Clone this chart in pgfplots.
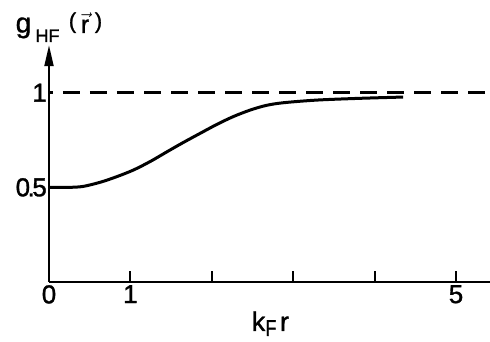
\documentclass[border=0pt]{standalone}
\usepackage{fontspec}
\setmainfont{Liberation Sans}[FakeBold=1.2]
\usepackage{pgfplots}
\pgfplotsset{compat=1.18}
\usetikzlibrary{arrows.meta}
\begin{document}
\begin{tikzpicture}
\path[use as bounding box] (-49pt,-60pt) rectangle (441pt,282pt);
\begin{axis}[
  at={(0pt,0pt)}, anchor=origin,
  scale only axis, x=81.4pt, y=189.3pt,
  xmin=0, xmax=5.42, ymin=0, ymax=1.251,
  axis lines=left,
  axis line style={line width=2pt},
  x axis line style={-},
  y axis line style={-{Triangle[length=21pt,width=9pt]}},
  clip=false,
  xtick={0,1,2,3,4,5}, xticklabels={0,1,,,,5},
  ytick={0.5,1}, yticklabels={0\kern-2.5pt.\kern-2.5pt5,1},
  tick align=inside,
  major tick length=11pt,
  xtick style={line width=2pt, black},
  ytick style={draw=none},
  ticklabel style={font=\fontsize{26}{30}\selectfont},
  xticklabel style={inner sep=0.3em},
  yticklabel style={inner sep=0.2em},
]
\addplot[black, line width=2.4pt, dash pattern=on 17pt off 10pt, dash phase=13pt] coordinates {(0,1) (5.42,1)};
\addplot[black, line width=3pt, smooth, tension=0.5] coordinates {
(0,0.5) (0.25,0.5) (0.42,0.505) (0.63,0.527) (0.83,0.556) (1.04,0.592)
(1.25,0.638) (1.45,0.688) (1.65,0.737) (1.86,0.786) (2.06,0.832) (2.26,0.873)
(2.47,0.908) (2.67,0.933) (2.88,0.947) (3.29,0.961) (3.8,0.970) (4.35,0.977)};
% x label k_F r
\node[font=\fontsize{27}{30}\selectfont, anchor=base, inner sep=0pt] at (axis cs:2.574,0) [yshift=-49pt] {k};
\node[font=\fontsize{23}{25}\selectfont, anchor=base, inner sep=0pt] at (axis cs:2.727,0) [yshift=-54pt] {\scalebox{0.78}[1]{F}};
\node[font=\fontsize{27}{30}\selectfont, anchor=base, inner sep=0pt] at (axis cs:2.893,0) [yshift=-49pt] {r};
% y label g_HF(r)
\node[font=\fontsize{28}{30}\selectfont, anchor=base, inner sep=0pt] at (axis cs:0,0) [xshift=-25.5pt, yshift=249.5pt] {g};
\node[font=\fontsize{18}{20}\selectfont, anchor=base, inner sep=0pt] at (axis cs:0,0) [xshift=-1.5pt, yshift=240pt] {HF};
\node[font=\fontsize{22}{24}\selectfont, anchor=base, inner sep=0pt] at (axis cs:0,0) [xshift=23.5pt, yshift=253.6pt] {(};
\node[font=\fontsize{25}{27}\selectfont, anchor=base, inner sep=0pt] at (axis cs:0,0) [xshift=36pt, yshift=249pt] {\ensuremath{\vec{\mbox{r}}}};
\node[font=\fontsize{22}{24}\selectfont, anchor=base, inner sep=0pt] at (axis cs:0,0) [xshift=49.5pt, yshift=253.6pt] {)};
\end{axis}
\end{tikzpicture}
\end{document}
